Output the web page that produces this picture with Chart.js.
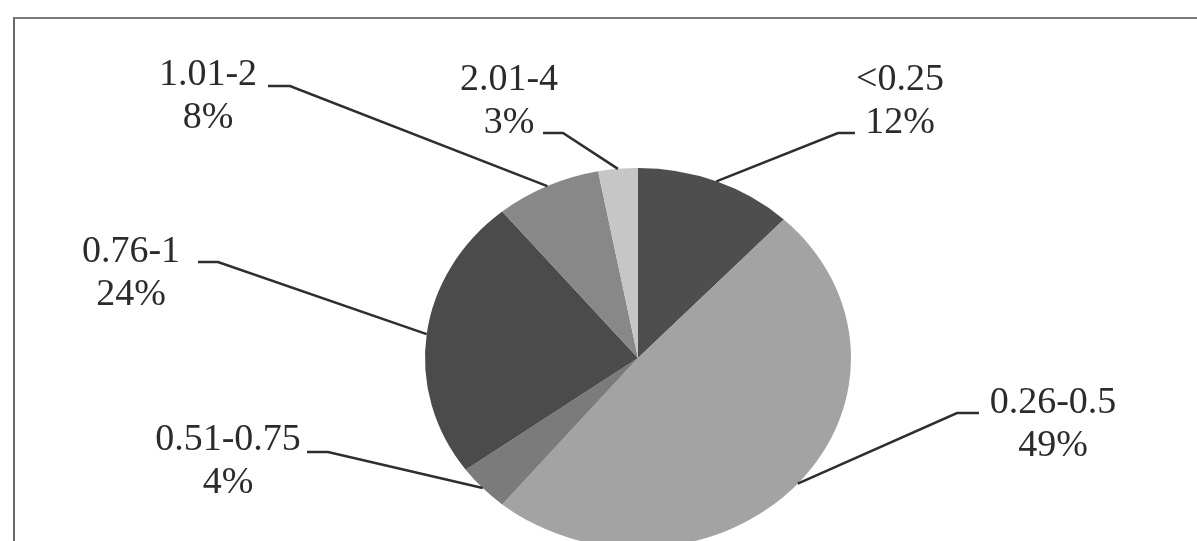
<!DOCTYPE html>
<html>
<head>
<meta charset="utf-8">
<script src="https://cdn.jsdelivr.net/npm/chart.js@4/dist/chart.umd.min.js"></script>
<style>
  html, body { margin: 0; padding: 0; background: #fff; overflow: hidden; }
  #wrap { position: relative; width: 1197px; height: 541px; overflow: hidden; }
  #frame {
    position: absolute; left: 13px; top: 17px; right: -10px; bottom: -10px;
    border-top: 2px solid #7a7a7a; border-left: 2px solid #6a6a6a;
  }
  #pie { position: absolute; left: 0; top: 0; }
</style>
</head>
<body>
<div id="wrap">
  <div id="frame"></div>
  <canvas id="pie" width="1197" height="620"></canvas>
</div>
<script>
// Categories and shares (%), clockwise from 12 o'clock
const categories = ['<0.25', '0.26-0.5', '0.51-0.75', '0.76-1', '1.01-2', '2.01-4'];
const shares = [12, 49, 4, 24, 8, 3];
const sliceColors = ['#4e4e4e', '#a3a3a3', '#7b7b7b', '#4b4b4b', '#888888', '#c6c6c6'];

// pie is a bit flattened vertically in the original
const squash = 0.892;

// label placement: text centre x, first baseline, stub start / end x, stub y
const labelLayout = [
  { cx: 900, y: 90, s0: 855, s1: 838, sy: 133 },
  { cx: 1053, y: 413, s0: 979, s1: 957, sy: 413 },
  { cx: 228, y: 450, s0: 307, s1: 328, sy: 452 },
  { cx: 131, y: 262, s0: 198, s1: 218, sy: 262 },
  { cx: 208, y: 85, s0: 268, s1: 290, sy: 86 },
  { cx: 509, y: 90, s0: 543, s1: 563, sy: 133 }
];

// Squash the pie around its centre
const squashPlugin = {
  id: 'squash',
  beforeDatasetsDraw(chart) {
    const arc = chart.getDatasetMeta(0).data[0];
    const ctx = chart.ctx;
    ctx.save();
    ctx.translate(arc.x, arc.y);
    ctx.scale(1, squash);
    ctx.translate(-arc.x, -arc.y);
  },
  afterDatasetsDraw(chart) {
    chart.ctx.restore();
  }
};

// Leader lines and two-line labels
const labelPlugin = {
  id: 'pieLabels',
  afterDraw(chart) {
    const ctx = chart.ctx;
    const meta = chart.getDatasetMeta(0);
    ctx.save();
    meta.data.forEach((arc, i) => {
      const lay = labelLayout[i];
      const mid = (arc.startAngle + arc.endAngle) / 2;
      const px = arc.x + Math.cos(mid) * arc.outerRadius;
      const py = arc.y + Math.sin(mid) * arc.outerRadius * squash;

      ctx.strokeStyle = '#2e2e2e';
      ctx.lineWidth = 2.5;
      ctx.beginPath();
      ctx.moveTo(lay.s0, lay.sy);
      ctx.lineTo(lay.s1, lay.sy);
      ctx.lineTo(px, py);
      ctx.stroke();

      ctx.fillStyle = '#2b2b2b';
      ctx.font = '38px "Liberation Serif"';
      ctx.textAlign = 'center';
      ctx.textBaseline = 'alphabetic';
      ctx.fillText(chart.data.labels[i], lay.cx, lay.y);
      ctx.fillText(chart.data.datasets[0].data[i] + '%', lay.cx, lay.y + 43);
    });
    ctx.restore();
  }
};

new Chart(document.getElementById('pie'), {
  type: 'pie',
  data: {
    labels: categories,
    datasets: [{
      data: shares,
      backgroundColor: sliceColors,
      borderWidth: 0
    }]
  },
  options: {
    responsive: false,
    animation: false,
    layout: {
      padding: { left: 425, right: 346, top: 145, bottom: 49 }
    },
    plugins: {
      legend: { display: false },
      tooltip: { enabled: false }
    }
  },
  plugins: [squashPlugin, labelPlugin]
});
</script>
</body>
</html>
